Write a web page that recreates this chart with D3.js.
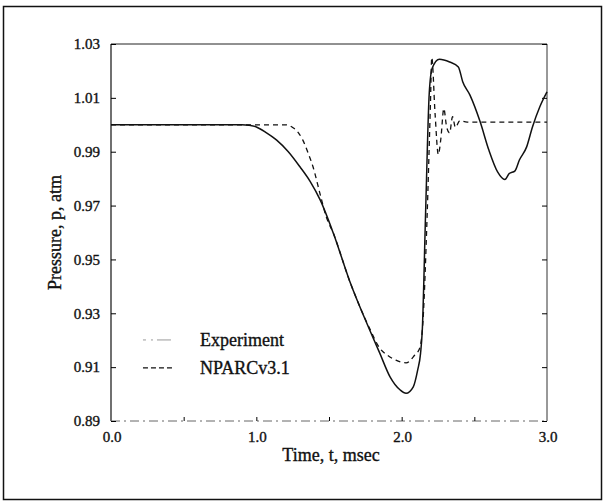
<!DOCTYPE html>
<html>
<head>
<meta charset="utf-8">
<script src="https://cdn.jsdelivr.net/npm/d3@7"></script>
<style>
  body { margin: 0; background: #fff; }
  text { font-family: "Liberation Serif", "Times New Roman", serif; fill: #111; stroke: #111; stroke-width: 0.35px; }
</style>
</head>
<body>
<script>
// Experiment (solid line)
const expTime = [0, 0.5, 0.9, 0.95, 1.0, 1.07, 1.14, 1.22, 1.3, 1.37, 1.44, 1.53, 1.64, 1.78, 1.85, 1.92, 1.99, 2.03, 2.08, 2.11, 2.13, 2.142, 2.165, 2.19, 2.21, 2.26, 2.33, 2.39, 2.42, 2.47, 2.54, 2.6, 2.66, 2.71, 2.74, 2.78, 2.81, 2.86, 2.9, 2.95, 3.0];
const expPressure = [1.0, 1.0, 1.0, 0.9998, 0.9992, 0.997, 0.9943, 0.990, 0.9844, 0.979, 0.972, 0.9597, 0.9423, 0.9238, 0.9151, 0.9064, 0.9015, 0.9003, 0.9027, 0.9089, 0.9151, 0.9238, 0.968, 1.012, 1.021, 1.0243, 1.0233, 1.0215, 1.016, 1.011, 1.0011, 0.9906, 0.9825, 0.9797, 0.9819, 0.9829, 0.9869, 0.9918, 0.9992, 1.0066, 1.0122];

// NPARCv3.1 (dashed line)
const cfdTime = [0, 0.6, 1.2, 1.25, 1.29, 1.32, 1.36, 1.39, 1.44, 1.48, 1.53, 1.64, 1.78, 1.85, 1.9, 1.96, 2.03, 2.09, 2.124, 2.147, 2.175, 2.198, 2.207, 2.23, 2.252, 2.27, 2.29, 2.31, 2.33, 2.35, 2.37, 2.40, 2.45, 3.0];
const cfdPressure = [1.0, 1.0, 1.0, 0.999, 0.997, 0.9943, 0.989, 0.9844, 0.974, 0.966, 0.9597, 0.9423, 0.9243, 0.917, 0.9145, 0.9126, 0.9116, 0.9145, 0.917, 0.9275, 0.966, 1.008, 1.025, 1.004, 0.989, 0.995, 1.006, 0.999, 0.997, 1.003, 0.999, 1.0015, 1.001, 1.001];

const xTickLabels = [0, 1, 2, 3];
const xMinorTicks = [0.5, 1, 1.5, 2, 2.5];
const yTickLabels = [0.89, 0.91, 0.93, 0.95, 0.97, 0.99, 1.01, 1.03];
const seriesNames = ['Experiment', 'NPARCv3.1'];

const svgWidth = 605, svgHeight = 502;
const margin = { top: 44, right: 58, bottom: 81, left: 111 };
const width = svgWidth - margin.left - margin.right;
const height = svgHeight - margin.top - margin.bottom;

const svgRoot = d3.select('body').append('svg')
  .attr('width', svgWidth)
  .attr('height', svgHeight);

// outer frame
svgRoot.append('rect')
  .attr('x', 3.5).attr('y', 6.5)
  .attr('width', 598).attr('height', 493)
  .attr('fill', 'none').attr('stroke', '#111').attr('stroke-width', 1.5);

const svg = svgRoot.append('g')
  .attr('transform', `translate(${margin.left}, ${margin.top})`);

const x = d3.scaleLinear().domain([0, 3]).range([0, width]);
const y = d3.scaleLinear().domain([0.89, 1.03]).range([height, 0]);

// plot box
svg.append('line').attr('x1', 0).attr('x2', width).attr('y1', 0).attr('y2', 0)
  .attr('stroke', '#222');
svg.append('line').attr('x1', 0).attr('x2', 0).attr('y1', 0).attr('y2', height)
  .attr('stroke', '#111').attr('stroke-width', 1.2);
svg.append('line').attr('x1', width).attr('x2', width).attr('y1', 0).attr('y2', height)
  .attr('stroke', '#333');
svg.append('line').attr('x1', 0).attr('x2', width).attr('y1', height).attr('y2', height)
  .attr('stroke', '#666').attr('stroke-dasharray', '9,4,2,4');

// left axis: inward ticks
const yLeft = svg.append('g')
  .call(d3.axisRight(y).tickValues(yTickLabels).tickSize(5).tickFormat(''));
yLeft.select('.domain').remove();

// right axis: inward ticks
const yRight = svg.append('g')
  .attr('transform', `translate(${width}, 0)`)
  .call(d3.axisLeft(y).tickValues(yTickLabels).tickSize(5).tickFormat(''));
yRight.select('.domain').remove();

// bottom axis: inward ticks
const xBottom = svg.append('g')
  .attr('transform', `translate(0, ${height})`)
  .call(d3.axisTop(x).tickValues(xMinorTicks).tickSize(4).tickFormat(''));
xBottom.select('.domain').remove();

// tick labels
svg.selectAll('.ylab')
  .data(yTickLabels)
  .enter().append('text')
  .attr('class', 'ylab')
  .attr('x', -11)
  .attr('y', d => y(d))
  .attr('dy', '0.35em')
  .attr('text-anchor', 'end')
  .style('font-size', '15px')
  .text(d => d.toFixed(2));

svg.selectAll('.xlab')
  .data(xTickLabels)
  .enter().append('text')
  .attr('class', 'xlab')
  .attr('x', d => x(d) + 1)
  .attr('y', height + 21)
  .attr('text-anchor', 'middle')
  .style('font-size', '15px')
  .text(d => d.toFixed(1));

// curves
const lineExp = d3.line()
  .x((d, i) => x(expTime[i]))
  .y(d => y(d))
  .curve(d3.curveMonotoneX);

const lineCfd = d3.line()
  .x((d, i) => x(cfdTime[i]))
  .y(d => y(d))
  .curve(d3.curveMonotoneX);

svg.append('path')
  .datum(cfdPressure)
  .attr('d', lineCfd)
  .attr('fill', 'none')
  .attr('stroke', '#111')
  .attr('stroke-width', 1.3)
  .attr('stroke-dasharray', '5,4');

svg.append('path')
  .datum(expPressure)
  .attr('d', lineExp)
  .attr('fill', 'none')
  .attr('stroke', '#111')
  .attr('stroke-width', 1.5);

// legend
const legend = svg.append('g')
  .attr('transform', `translate(${x(0.22)}, ${y(0.9201)})`);

legend.append('line')
  .attr('x1', 0).attr('x2', 28).attr('y1', 0).attr('y2', 0)
  .attr('stroke', '#999').attr('stroke-width', 1)
  .attr('stroke-dasharray', '3,5,2,4,14');
legend.append('line')
  .attr('x1', 0).attr('x2', 29).attr('y1', 28).attr('y2', 28)
  .attr('stroke', '#111').attr('stroke-width', 1.3)
  .attr('stroke-dasharray', '5,3');

legend.selectAll('.legtext')
  .data(seriesNames)
  .enter().append('text')
  .attr('class', 'legtext')
  .attr('x', 57)
  .attr('y', (d, i) => i * 28 + 6)
  .style('font-size', '18px')
  .text(d => d);

// axis titles
svg.append('text')
  .attr('x', width / 2 + 2)
  .attr('y', height + 40)
  .attr('text-anchor', 'middle')
  .style('font-size', '18px')
  .text('Time, t, msec');

svg.append('text')
  .attr('transform', 'rotate(-90)')
  .attr('x', -y(0.96))
  .attr('y', -50)
  .attr('text-anchor', 'middle')
  .style('font-size', '18px')
  .text('Pressure, p, atm');
</script>
</body>
</html>
